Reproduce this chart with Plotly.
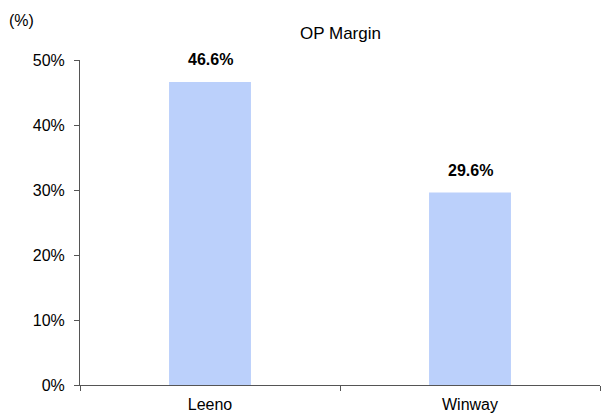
import plotly.graph_objects as go

categories = ["Leeno", "Winway"]
op_margin = [46.6, 29.6]
label_texts = ["46.6%", "29.6%"]
y_ticks = [0, 10, 20, 30, 40, 50]
y_tick_labels = ["0%", "10%", "20%", "30%", "40%", "50%"]

FONT = "Liberation Sans Narrow, Arial Narrow, Liberation Sans, Arial, sans-serif"

fig = go.Figure()
fig.add_trace(go.Bar(
    x=categories, y=op_margin, width=0.315,
    marker=dict(color="#BBD0FB", line=dict(width=0)),
    hoverinfo="skip",
))

for c, v, t in zip(categories, op_margin, label_texts):
    fig.add_annotation(x=c, y=v, text="<b>" + t + "</b>", showarrow=False,
                       yanchor="bottom", yshift=12,
                       font=dict(family=FONT, size=16, color="#000000"))

fig.add_annotation(xref="paper", yref="paper", x=0.5, y=1.0, yshift=15,
                   text="OP Margin", showarrow=False, yanchor="bottom",
                   font=dict(family=FONT, size=17, color="#000000"))
fig.add_annotation(xref="paper", yref="paper", x=-0.14, y=1.0, yshift=29,
                   text="(%)", showarrow=False, xanchor="left", yanchor="bottom",
                   font=dict(family=FONT, size=16, color="#000000"))

fig.update_layout(
    width=605, height=419,
    margin=dict(l=80, r=5, t=60, b=34),
    plot_bgcolor="white", paper_bgcolor="white",
    showlegend=False,
    font=dict(family=FONT, size=15, color="#000000"),
    bargap=0.685,
)
fig.update_xaxes(
    range=[-0.5, 1.5], showgrid=False, showline=True, linecolor="#555555", linewidth=1,
    ticks="outside", tickson="boundaries", ticklen=5, tickcolor="#555555",
    tickfont=dict(family=FONT, size=16), ticklabelstandoff=5,
)
fig.update_yaxes(
    range=[0, 50], tickvals=y_ticks, ticktext=y_tick_labels, showgrid=False,
    showline=True, linecolor="#555555", linewidth=1, zeroline=False,
    ticks="outside", ticklen=5, tickcolor="#555555",
    tickfont=dict(family=FONT, size=16), ticklabelstandoff=6,
)

fig.write_html("out.html", config={"displayModeBar": False},
               post_script="document.body.style.margin='0';")
